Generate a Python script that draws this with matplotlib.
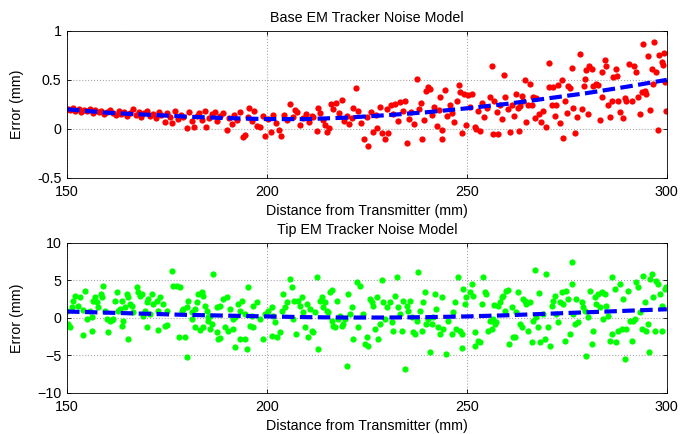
import matplotlib
matplotlib.use('Agg')
import matplotlib.pyplot as plt

plt.rcParams['font.family'] = ['Liberation Sans', 'DejaVu Sans']

# ---- base tracker (top) ----
base_x = [150.2, 150.8, 151.5, 152.1, 152.9, 153.6, 154.3, 155.0, 155.8, 156.4,
          157.1, 157.9, 158.6, 159.2, 160.0, 160.7, 161.4, 162.2, 162.9, 163.5,
          164.3, 165.1, 165.8, 166.4, 167.2, 167.9, 168.6, 169.3, 170.1, 170.8,
          171.5, 172.2, 172.9, 173.6, 174.4, 175.0, 175.7, 176.3, 177.0, 177.8,
          178.5, 179.1, 179.9, 180.6, 181.3, 181.7, 182.4, 183.1, 183.8, 184.6,
          184.8, 185.5, 186.2, 186.9, 187.5, 188.3, 189.0, 189.9, 190.4, 191.2,
          191.8, 192.6, 193.3, 194.1, 194.5, 195.2, 195.6, 196.3, 196.8, 197.5,
          198.2, 198.9, 199.5, 200.2, 200.9, 201.6, 202.3, 203.0, 203.5, 204.2,
          204.9, 205.7, 206.4, 207.0, 207.6, 208.3, 209.0, 209.7, 210.5, 211.2,
          211.6, 212.4, 212.8, 213.3, 214.0, 214.5, 215.1, 215.6, 215.9, 216.6,
          217.3, 217.9, 218.7, 219.3, 220.0, 220.6, 221.2, 221.6, 222.2, 222.8,
          223.4, 224.3, 224.9, 225.3, 225.9, 226.6, 227.2, 227.6, 228.2, 228.7,
          229.5, 230.0, 230.3, 230.9, 231.5, 232.1, 232.7, 233.3, 233.9, 234.4,
          234.9, 235.5, 236.1, 236.7, 237.4, 237.9, 238.4, 238.7, 239.3, 239.9,
          240.3, 240.8, 241.3, 241.9, 242.5, 243.0, 243.4, 243.7, 243.9, 244.5,
          245.1, 245.7, 246.3, 246.9, 247.5, 248.0, 248.4, 248.7, 249.3, 249.8,
          250.3, 250.8, 251.4, 252.0, 252.4, 252.9, 253.3, 253.8, 254.4, 255.0,
          255.8, 256.3, 256.6, 256.9, 257.5, 257.8, 258.3, 258.9, 259.3, 259.6,
          260.2, 260.8, 261.2, 261.7, 262.3, 262.7, 263.1, 263.3, 263.9, 264.1,
          264.5, 264.9, 265.3, 265.7, 266.2, 266.6, 267.0, 267.4, 268.1, 268.6,
          269.1, 269.9, 270.5, 270.6, 271.2, 271.6, 272.0, 272.4, 272.8, 273.4,
          273.7, 274.1, 274.5, 275.0, 275.3, 275.8, 276.3, 276.6, 277.0, 277.6,
          278.3, 278.8, 279.3, 279.5, 279.9, 280.3, 280.6, 281.2, 281.6, 282.3,
          282.8, 283.3, 283.7, 283.9, 284.5, 284.9, 285.3, 285.8, 286.2, 286.6,
          287.3, 287.6, 287.8, 288.4, 289.0, 289.5, 289.9, 290.5, 291.2, 291.8,
          292.4, 292.8, 293.3, 293.7, 294.1, 294.5, 294.9, 295.3, 295.8, 296.2,
          296.6, 296.8, 297.2, 297.8, 298.0, 298.7, 299.1, 299.3, 299.5, 299.9]
base_y = [0.20, 0.19, 0.21, 0.18, 0.20, 0.17, 0.19, 0.18, 0.20, 0.16,
          0.19, 0.17, 0.18, 0.15, 0.17, 0.19, 0.16, 0.14, 0.18, 0.15,
          0.17, 0.13, 0.16, 0.20, 0.14, 0.17, 0.12, 0.16, 0.18, 0.13,
          0.15, 0.11, 0.17, 0.14, 0.07, 0.16, 0.12, 0.06, 0.18, 0.10,
          0.14, 0.12, 0.01, 0.17, 0.08, 0.02, 0.13, 0.16, 0.09, 0.18,
          0.02, 0.11, 0.15, 0.17, 0.08, 0.13, 0.16, -0.01, 0.11, 0.05,
          0.14, 0.09, 0.17, -0.08, -0.06, 0.12, 0.21, 0.08, 0.18, 0.03,
          0.02, 0.13, -0.07, 0.10, -0.03, 0.14, 0.06, -0.01, -0.07, 0.14,
          0.09, 0.25, 0.12, 0.19, 0.17, 0.04, 0.11, 0.15, 0.07, 0.13,
          0.12, -0.02, 0.21, 0.16, 0.09, 0.04, -0.03, 0.01, 0.25, 0.20,
          0.26, 0.16, 0.29, 0.08, 0.13, 0.05, 0.11, 0.21, 0.42, 0.18,
          0.06, -0.10, 0.12, -0.17, 0.17, -0.03, 0.14, 0.01, 0.22, -0.04,
          -0.10, 0.20, -0.04, 0.24, 0.15, 0.25, 0.08, 0.27, 0.18, 0.28,
          -0.14, 0.10, 0.17, 0.05, 0.51, 0.20, 0.26, -0.10, 0.09, 0.39,
          0.43, 0.41, 0.14, 0.22, 0.03, 0.19, 0.33, -0.10, -0.01, 0.40,
          0.13, 0.24, 0.16, 0.07, 0.28, 0.45, 0.38, -0.04, 0.36, 0.04,
          0.35, 0.22, 0.36, 0.02, 0.00, 0.18, -0.02, 0.26, 0.12, 0.21,
          0.33, 0.64, -0.05, 0.28, 0.17, -0.05, 0.24, 0.10, 0.55, 0.33,
          0.20, -0.03, 0.24, 0.13, 0.36, 0.21, -0.02, 0.23, 0.34, 0.28,
          0.50, 0.07, 0.24, 0.46, 0.24, 0.33, 0.11, 0.32, 0.15, 0.07,
          0.18, 0.02, 0.67, 0.43, 0.24, 0.43, 0.13, 0.24, 0.45, 0.06,
          0.50, -0.09, 0.28, 0.16, 0.44, 0.42, 0.62, 0.21, -0.04, 0.12,
          0.76, 0.20, 0.44, 0.51, 0.60, 0.15, 0.64, 0.61, 0.44, 0.46,
          0.45, 0.09, 0.33, 0.58, 0.70, 0.64, 0.24, 0.12, 0.28, 0.53,
          0.61, 0.54, 0.28, 0.17, 0.11, 0.31, 0.28, 0.66, 0.28, 0.64,
          0.58, 0.33, 0.15, 0.38, 0.87, 0.39, 0.36, 0.74, 0.19, 0.61,
          0.46, 0.89, 0.58, -0.01, 0.75, 0.68, 0.65, 0.77, 0.48, 0.18]
base_fit_x = [150, 160, 170, 180, 190, 200, 210, 220, 230, 240, 250, 260, 270, 280, 290, 300]
base_fit_y = [0.20, 0.165, 0.145, 0.125, 0.11, 0.10, 0.10, 0.115, 0.14, 0.17,
              0.21, 0.255, 0.31, 0.365, 0.43, 0.50]

# ---- tip tracker (bottom) ----
tip_x = [150.0, 150.3, 150.8, 151.2, 151.6, 152.0, 152.8, 153.3, 154.1, 154.1,
         154.5, 154.9, 155.8, 156.2, 156.2, 156.6, 157.0, 157.4, 157.8, 158.4,
         158.7, 159.1, 159.5, 159.9, 160.3, 160.8, 161.2, 161.6, 162.0, 162.4,
         162.8, 163.3, 163.7, 163.7, 164.1, 164.5, 164.9, 165.3, 165.3, 165.8,
         166.2, 166.6, 167.4, 167.8, 168.3, 168.7, 169.1, 169.5, 169.9, 169.9,
         170.3, 170.8, 171.2, 171.6, 172.4, 172.8, 172.8, 173.3, 174.1, 174.5,
         174.9, 174.9, 176.2, 176.6, 177.4, 178.1, 178.3, 178.7, 179.1, 179.5,
         179.9, 180.1, 180.3, 181.2, 181.2, 182.0, 182.0, 182.4, 182.8, 183.3,
         183.7, 184.1, 184.1, 184.5, 184.9, 185.3, 185.3, 185.8, 185.8, 186.2,
         186.6, 187.4, 187.4, 187.8, 188.3, 188.3, 189.1, 189.5, 189.9, 190.3,
         190.8, 191.6, 191.6, 192.0, 192.0, 192.8, 193.3, 193.3, 193.7, 194.5,
         194.5, 194.9, 195.3, 195.8, 196.2, 196.6, 196.6, 197.4, 198.3, 198.9,
         199.5, 200.3, 201.2, 201.6, 201.2, 202.0, 202.4, 203.3, 203.7, 204.1,
         204.5, 204.9, 205.8, 206.2, 206.6, 206.8, 207.3, 207.8, 208.3, 208.7,
         209.1, 209.5, 209.9, 210.3, 210.8, 211.2, 211.6, 212.0, 212.4, 212.8,
         213.3, 213.7, 214.1, 214.5, 214.9, 215.3, 215.8, 216.2, 216.2, 216.6,
         217.0, 217.4, 217.8, 218.3, 218.7, 219.1, 219.5, 219.9, 220.3, 220.8,
         221.2, 221.6, 222.4, 222.8, 223.3, 224.1, 224.5, 224.9, 225.3, 225.8,
         226.2, 226.6, 227.0, 227.4, 227.8, 228.3, 228.7, 229.1, 229.5, 229.9,
         230.8, 231.2, 231.6, 232.0, 232.4, 232.8, 233.3, 233.7, 234.1, 234.5,
         234.9, 235.3, 235.8, 236.2, 236.6, 237.0, 237.4, 237.8, 238.3, 238.7,
         239.1, 239.5, 239.9, 240.3, 240.8, 241.2, 241.6, 242.0, 242.4, 242.8,
         243.3, 243.7, 244.1, 244.9, 245.3, 246.2, 246.6, 247.0, 247.4, 247.8,
         248.3, 248.7, 248.9, 249.1, 249.5, 249.9, 250.8, 251.2, 251.6, 252.0,
         252.0, 252.8, 253.3, 253.7, 254.1, 254.5, 254.9, 255.3, 255.8, 256.2,
         256.6, 256.8, 257.0, 257.4, 257.8, 258.3, 258.7, 259.1, 259.5, 259.9,
         260.3, 260.6, 261.2, 261.6, 262.0, 262.4, 262.8, 263.3, 263.7, 264.1,
         264.5, 264.9, 265.3, 265.8, 266.2, 266.6, 267.0, 267.4, 267.8, 268.1,
         268.3, 269.1, 269.5, 269.9, 270.3, 270.8, 271.2, 271.6, 272.0, 272.4,
         272.8, 273.3, 273.7, 274.1, 274.5, 274.9, 275.3, 275.8, 276.2, 276.4,
         276.6, 277.0, 277.4, 277.8, 278.7, 279.1, 279.5, 279.9, 280.3, 280.8,
         281.2, 281.6, 282.0, 282.4, 282.8, 283.3, 283.7, 284.1, 284.5, 284.9,
         285.3, 285.8, 286.2, 286.4, 287.0, 287.3, 287.8, 288.3, 288.7, 289.1,
         289.5, 289.9, 290.3, 290.8, 291.2, 291.6, 292.0, 292.4, 292.8, 293.3,
         293.7, 294.1, 294.5, 294.9, 295.3, 295.6, 295.8, 296.2, 296.6, 297.0,
         297.4, 297.8, 298.3, 298.7, 298.9, 299.5, 299.9]
tip_y = [0.98, -0.80, -1.24, 1.42, 2.31, 2.98, 1.64, 2.76, 1.07, -2.22,
         3.64, -0.13, 0.98, 0.09, -1.78, 2.31, 2.76, 2.09, 1.42, 3.20,
         2.76, 4.31, 0.98, -0.13, -1.82, -0.36, -0.27, -0.13, 2.31, 3.42,
         0.98, 1.20, 2.31, -1.02, -0.36, 1.42, 3.20, 2.76, -2.80, 1.87,
         1.64, 0.76, 4.09, 3.42, 2.98, 3.20, 0.31, 0.98, 2.09, -1.24,
         2.53, 0.53, 3.20, 1.87, 2.31, 0.98, -1.56, 2.76, 1.87, -1.02,
         0.98, -0.89, 6.31, 4.31, 4.31, -2.58, 4.09, 0.98, 1.20, -2.58,
         1.42, -5.16, 2.31, 0.76, -0.13, 1.20, -1.16, 2.09, 3.20, -1.60,
         3.42, 2.98, -1.24, 1.64, 0.98, 0.09, -0.36, 0.31, -1.47, -0.80,
         5.87, 1.42, -1.91, -2.80, 1.64, -2.67, 2.53, -1.24, 2.76, -1.69,
         1.20, -0.13, -1.47, 0.09, -3.91, 1.87, 0.98, -2.80, 2.31, 0.53,
         -2.80, -4.13, 4.09, -1.02, 0.31, 1.64, -1.24, 2.09, -0.13, -2.80,
         0.53, 0.98, 1.51, 0.31, -2.36, -0.58, -2.58, -1.91, 0.98, 3.20,
         1.42, 2.09, 5.20, 4.09, -0.13, 2.22, -2.13, 2.31, 1.64, 2.76,
         0.76, -1.24, 1.87, -2.49, 1.20, -1.69, -1.91, 0.76, 5.42, -4.13,
         2.31, 2.84, 1.42, 2.09, 0.98, 0.76, 3.42, 3.73, -0.36, -1.02,
         -1.24, 2.31, -0.13, 0.31, -1.02, -0.80, -0.13, -6.36, 3.20, 0.53,
         1.42, -2.80, 4.76, -1.24, 4.31, 0.53, -3.47, -2.58, -3.69, 2.53,
         2.09, 1.64, -1.47, 2.76, -2.80, -0.80, 5.07, 2.09, -0.13, 1.42,
         2.09, -0.58, -1.69, 2.98, 5.51, 1.51, 0.53, -1.69, 2.31, -6.80,
         1.64, 0.98, 2.31, 0.09, -1.91, -2.13, -0.36, 6.09, 0.98, -1.69,
         2.09, 3.42, -0.80, -0.13, -4.58, -0.80, 0.09, 3.20, 1.20, -1.24,
         -2.13, 2.76, -1.47, -4.80, -0.36, -2.13, 0.76, 2.09, -1.47, 5.42,
         -1.69, -2.13, -4.00, 3.87, 1.87, 2.76, 3.42, 4.53, 2.98, -1.91,
         -3.69, -3.02, -3.24, 1.87, 5.42, 3.42, 3.20, -1.69, -0.36, -1.47,
         -0.13, 1.78, -0.80, -0.58, 1.64, 2.09, 2.76, 2.98, 0.98, 3.64,
         3.73, -3.47, 1.42, -2.58, -2.58, 0.84, 3.42, -0.80, -1.24, 2.53,
         2.31, 1.87, -1.69, 2.09, -3.24, -0.36, 6.40, 0.09, -1.24, 3.29,
         -3.16, 0.53, -2.80, 5.87, -1.24, -3.69, 1.64, 2.31, 2.98, 0.53,
         -0.58, 2.09, 3.42, 1.87, -3.02, 3.56, 2.53, -2.13, 4.53, 7.42,
         0.53, -0.80, 2.53, -0.58, 2.09, 1.42, 0.98, -5.02, 0.09, 3.56,
         -3.47, -1.69, 2.76, 1.87, 3.20, 1.42, 3.42, -0.13, 3.20, 1.64,
         0.31, -3.02, -2.13, 5.51, 3.87, -3.24, -1.69, 4.53, -1.47, 2.53,
         -5.47, -1.47, 3.64, -0.36, -3.02, -0.36, -0.13, 4.76, 4.09, 0.76,
         -1.47, 5.64, 2.09, -1.69, -0.80, -4.58, 5.20, 5.87, 2.76, -1.69,
         4.98, 4.53, 3.20, 1.64, -1.69, 3.87, 4.09]
tip_fit_x = [150, 160, 170, 180, 190, 200, 210, 220, 230, 240, 250, 260, 270, 280, 290, 300]
tip_fit_y = [0.85, 0.70, 0.55, 0.40, 0.30, 0.20, 0.10, 0.05, 0.05, 0.10,
             0.20, 0.35, 0.55, 0.75, 0.95, 1.15]

xticks = [150, 200, 250, 300]
fs = 10.3


def style(ax, ylim, yticks, title):
    ax.set_xlim(150, 300)
    ax.set_ylim(*ylim)
    ax.set_xticks(xticks)
    ax.set_yticks(yticks)
    ax.grid(True, color='#a8a8a8', linestyle=':', linewidth=0.8)
    ax.set_axisbelow(True)
    ax.tick_params(direction='in', top=True, right=True, length=3,
                   labelsize=fs, width=0.6)
    ax.tick_params(axis='x', pad=5)
    ax.tick_params(axis='y', pad=4)
    for s in ax.spines.values():
        s.set_linewidth(0.6)
    ax.set_xlabel('Distance from Transmitter (mm)', fontsize=fs, labelpad=4)
    ax.set_ylabel('Error (mm)', fontsize=fs)
    ax.yaxis.set_label_coords(-0.072, 0.5)
    ax.set_title(title, fontsize=fs, pad=6)


fig = plt.figure(figsize=(6.91, 4.34), dpi=100)

ax1 = fig.add_axes([0.097, 0.590, 0.868, 0.339])
ax1.plot(base_x, base_y, 'o', color='#ff0000', markersize=4.5, markeredgewidth=0)
ax1.plot(base_fit_x, base_fit_y, color='#0000ff', linewidth=3, dashes=(3, 1.3))
style(ax1, (-0.5, 1), [-0.5, 0, 0.5, 1], 'Base EM Tracker Noise Model')
ax1.set_yticklabels(['-0.5', '0', '0.5', '1'])

ax2 = fig.add_axes([0.097, 0.0945, 0.868, 0.346])
ax2.plot(tip_x, tip_y, 'o', color='#00ff00', markersize=4.5, markeredgewidth=0)
ax2.plot(tip_fit_x, tip_fit_y, color='#0000ff', linewidth=3, dashes=(3, 1.3))
style(ax2, (-10, 10), [-10, -5, 0, 5, 10], 'Tip EM Tracker Noise Model')

fig.savefig('out.png', dpi=100)
